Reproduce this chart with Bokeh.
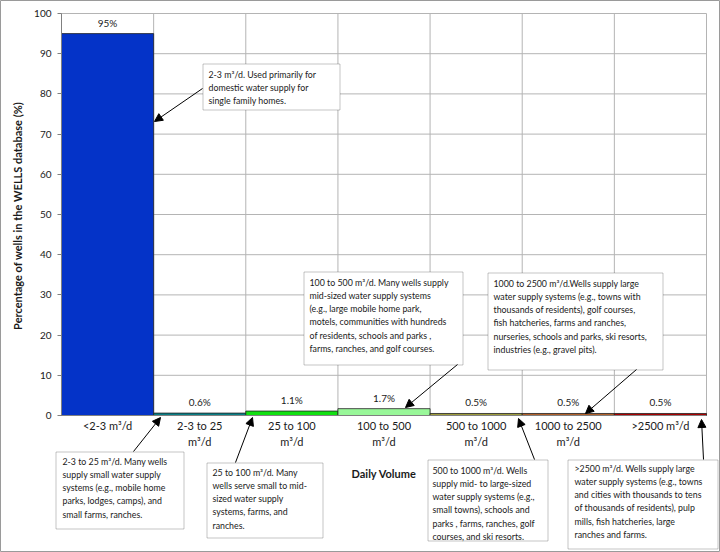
from bokeh.plotting import figure
from bokeh.models import (Range1d, FixedTicker, Label, Arrow, NormalHead,
                          BoxAnnotation, ColumnDataSource)
from bokeh.core.properties import value
from bokeh.embed import file_html
from bokeh.resources import INLINE

# ---------------- data ----------------
categories = ["<2-3 m³/d", "2-3 to 25\nm³/d", "25 to 100\nm³/d", "100 to 500\nm³/d",
              "500 to 1000\nm³/d", "1000 to 2500\nm³/d", ">2500 m³/d"]
percentages = [95, 0.6, 1.1, 1.7, 0.5, 0.5, 0.5]
value_labels = ["95%", "0.6%", "1.1%", "1.7%", "0.5%", "0.5%", "0.5%"]
bar_colors = ["#0433C8", "#0B7F86", "#11E011", "#99F799", "#9C9A3A", "#B0602A", "#A80000"]
y_ticks = [0, 10, 20, 30, 40, 50, 60, 70, 80, 90, 100]

note_1 = ["2-3 m³/d.  Used primarily for", "domestic water supply for", "single family homes."]
note_2 = ["2-3 to 25 m³/d.  Many wells", "supply small water supply", "systems (e.g., mobile home",
          "parks, lodges, camps), and", "small farms, ranches."]
note_3 = ["25 to 100 m³/d. Many", "wells serve small to mid-", "sized water supply",
          "systems, farms, and", "ranches."]
note_4 = ["100 to 500 m³/d. Many wells supply", "mid-sized water supply systems",
          "(e.g., large mobile home park,", "motels, communities with hundreds",
          "of residents, schools and parks ,", "farms, ranches, and golf courses."]
note_5 = ["500 to 1000 m³/d. Wells", "supply mid- to large-sized", "water supply systems (e.g.,",
          "small towns), schools and", "parks , farms, ranches, golf", "courses, and ski resorts."]
note_6 = ["1000 to 2500 m³/d.Wells supply large", "water supply systems (e.g., towns with",
          "thousands of residents), golf courses,", "fish hatcheries, farms and ranches,",
          "nurseries, schools and parks, ski resorts,", "industries (e.g., gravel pits)."]
note_7 = [">2500 m³/d. Wells supply large", "water supply systems (e.g., towns",
          "and cities with thousands to tens", "of thousands of residents), pulp",
          "mills, fish hatcheries, large", "ranches and farms."]

# ---------------- layout (canvas pixels, from top-left) ----------------
W, H = 720, 552
PL, PR, PT, PB = 61, 706, 13, 415          # plot-area edges on the canvas
n = len(categories)
kx = (PR - PL) / n                          # px per category
ky = (PB - PT) / (y_ticks[-1] - y_ticks[0]) # px per percent


def sx(X):
    return X


def sy(Y):
    return H - Y


# box (x0, y0, x1, y1), text origin (x, y), arrow (x0, y0, x1, y1)
notes = [
    (note_1, (202, 63, 339, 109), (208, 68), (202, 88, 154, 121)),
    (note_2, (55, 451, 183, 528), (62, 455), (133, 451, 160, 417)),
    (note_3, (206, 462, 322, 537), (212, 466), (235, 462, 252, 417)),
    (note_4, (303, 271, 462, 364), (309, 276), (457, 364, 405, 407)),
    (note_5, (427, 459, 547, 540), (432, 464), (534, 459, 518, 418)),
    (note_6, (487, 272, 662, 369), (493, 277), (636, 369, 585, 413)),
    (note_7, (567, 459, 717, 548), (574, 462), (703, 459, 701, 419)),
]

FONT = "Lato"
GRID = "#B4B4B4"

p = figure(width=W, height=H,
           x_range=Range1d(-PL / kx, (W - PL) / kx),
           y_range=Range1d(-(H - PB) / ky, PB / ky),
           output_backend="svg", toolbar_location=None,
           min_border=0, min_border_left=0, min_border_right=0,
           min_border_top=0, min_border_bottom=0)
p.title.visible = False
p.outline_line_color = "#9A9A9A"
p.background_fill_color = "white"
p.border_fill_color = "white"
p.xgrid.visible = False
p.ygrid.visible = False

# grid lines of the plot area (category boundaries and y ticks)
bounds = list(range(n + 1))
p.segment(x0=[0] * len(y_ticks), x1=[n] * len(y_ticks), y0=y_ticks, y1=y_ticks,
          line_color=GRID, line_width=1)
p.segment(x0=bounds, x1=bounds, y0=[y_ticks[0]] * len(bounds), y1=[y_ticks[-1]] * len(bounds),
          line_color=GRID, line_width=1)

xs = [i + 0.5 for i in range(n)]
src = ColumnDataSource(dict(x=xs, top=percentages, color=bar_colors, label=value_labels))

p.vbar(x="x", top="top", bottom=0, width=1, fill_color="color", line_color="#222222",
       line_width=0.8, source=src)
p.text(x="x", y="top", text="label", text_align="center", text_baseline="alphabetic",
       y_offset=-11, text_font=value(FONT), text_font_size="10px", text_color="#1a1a1a",
       source=src)

# axes (placed at the data origin, inside the full-canvas frame)
p.xaxis.fixed_location = 0
p.xaxis.bounds = (0, n)
p.xaxis.ticker = FixedTicker(ticks=xs)
p.xaxis.major_label_overrides = {x: c for x, c in zip(xs, categories)}
p.xaxis.major_tick_line_color = None
p.xaxis.major_tick_out = 0
p.xaxis.major_tick_in = 0
p.xaxis.minor_tick_line_color = None
p.xaxis.axis_line_color = "#808080"
p.xaxis.major_label_text_font = FONT
p.xaxis.major_label_text_font_size = "11px"
p.xaxis.major_label_text_line_height = 1.3
p.xaxis.major_label_text_color = "#1a1a1a"
p.xaxis.major_label_standoff = 3
p.xaxis.axis_label = "Daily Volume"
p.xaxis.axis_label_text_font = FONT
p.xaxis.axis_label_text_font_style = "bold"
p.xaxis.axis_label_text_font_size = "11px"
p.xaxis.axis_label_text_color = "#1a1a1a"
p.xaxis.axis_label_standoff = 16

p.yaxis.fixed_location = 0
p.yaxis.bounds = (y_ticks[0], y_ticks[-1])
p.yaxis.ticker = FixedTicker(ticks=y_ticks)
p.yaxis.minor_tick_line_color = None
p.yaxis.major_tick_in = 0
p.yaxis.major_tick_out = 4
p.yaxis.major_tick_line_color = "#808080"
p.yaxis.axis_line_color = "#808080"
p.yaxis.major_label_text_font = FONT
p.yaxis.major_label_text_font_size = "10px"
p.yaxis.major_label_text_color = "#1a1a1a"
p.yaxis.major_label_standoff = 6
p.yaxis.axis_label = "Percentage of wells in the WELLS database  (%)"
p.yaxis.axis_label_text_font = FONT
p.yaxis.axis_label_text_font_style = "bold"
p.yaxis.axis_label_text_font_size = "11px"
p.yaxis.axis_label_text_color = "#1a1a1a"
p.yaxis.axis_label_standoff = 7

for lines, box, txt, arr in notes:
    x0, y0, x1, y1 = box
    p.add_layout(BoxAnnotation(left=sx(x0 + 0.5), right=sx(x1 + 0.5),
                               top=sy(y0 + 0.5), bottom=sy(y1 + 0.5),
                               left_units="screen", right_units="screen",
                               top_units="screen", bottom_units="screen",
                               fill_color="white", fill_alpha=1,
                               line_color="#3a3a3a", line_width=1))
for lines, box, txt, arr in notes:
    p.add_layout(Label(x=sx(txt[0]), y=sy(txt[1]), x_units="screen", y_units="screen",
                       text="\n".join(lines), text_font=FONT, text_font_size="8.8px",
                       text_baseline="top", text_align="left", text_line_height=1.21,
                       text_color="#1a1a1a"))
    ax0, ay0, ax1, ay1 = arr
    p.add_layout(Arrow(x_start=sx(ax0), y_start=sy(ay0), x_end=sx(ax1), y_end=sy(ay1),
                       start_units="screen", end_units="screen",
                       line_color="black", line_width=1,
                       end=NormalHead(size=8, fill_color="black", line_color="black")))

open("out.html", "w").write(file_html(p, INLINE))
